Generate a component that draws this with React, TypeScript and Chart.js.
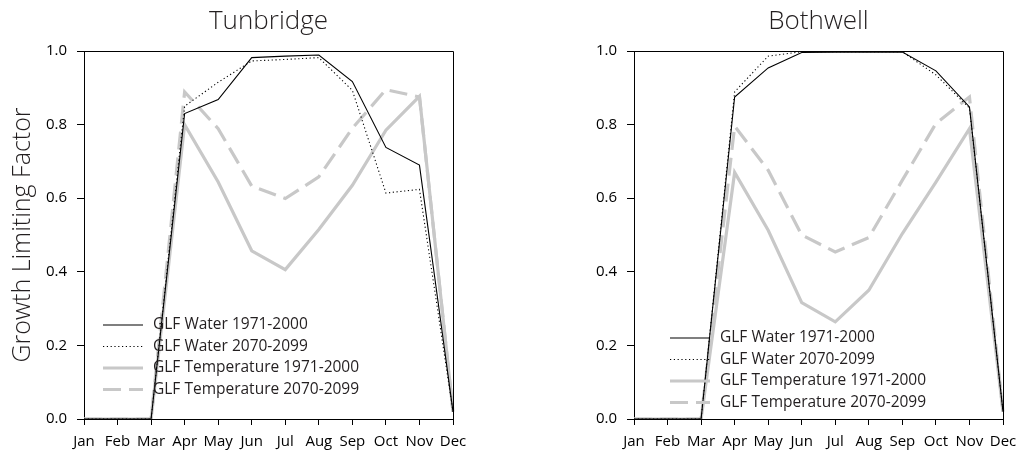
import React, { useEffect, useRef } from 'react';
import { Chart, registerables } from 'chart.js';

Chart.register(...registerables);

// ---- data ----
const months = ['Jan', 'Feb', 'Mar', 'Apr', 'May', 'Jun', 'Jul', 'Aug', 'Sep', 'Oct', 'Nov', 'Dec'];
const yTickValues = [0, 0.2, 0.4, 0.6, 0.8, 1.0];
const seriesLabels = [
  'GLF Water 1971-2000',
  'GLF Water 2070-2099',
  'GLF Temperature 1971-2000',
  'GLF Temperature 2070-2099',
];

const tunWater1971 = [0, 0, 0, 0.83, 0.868, 0.982, 0.986, 0.989, 0.917, 0.738, 0.69, 0.02];
const tunWater2070 = [0, 0, 0, 0.85, 0.915, 0.973, 0.977, 0.982, 0.893, 0.614, 0.624, 0.02];
const tunTemp1971 = [0, 0, 0, 0.8, 0.644, 0.457, 0.406, 0.515, 0.635, 0.785, 0.877, 0.02];
const tunTemp2070 = [0, 0, 0, 0.889, 0.789, 0.633, 0.599, 0.658, 0.79, 0.895, 0.875, 0.02];

const bothWater1971 = [0, 0, 0, 0.875, 0.954, 0.996, 0.997, 0.997, 0.997, 0.946, 0.848, 0.02];
const bothWater2070 = [0, 0, 0, 0.889, 0.986, 0.998, 0.998, 0.998, 0.998, 0.935, 0.845, 0.02];
const bothTemp1971 = [0, 0, 0, 0.67, 0.513, 0.316, 0.264, 0.35, 0.504, 0.644, 0.789, 0.02];
const bothTemp2070 = [0, 0, 0, 0.796, 0.676, 0.5, 0.454, 0.493, 0.649, 0.803, 0.875, 0.02];

// ---- styles ----
const FONT = '"Open Sans", "DejaVu Sans", sans-serif';
const GRAY = '#c8c8c8';
const TEXT = '#231f20';
Chart.defaults.font.family = FONT;

const seriesStyles = [
  { borderColor: '#000000', borderWidth: 1.1, borderDash: [] as number[] },
  { borderColor: '#000000', borderWidth: 1.1, borderDash: [1.2, 2.6] },
  { borderColor: GRAY, borderWidth: 3.2, borderDash: [] as number[] },
  { borderColor: GRAY, borderWidth: 3.2, borderDash: [18, 8] },
];

const framePlugin = {
  id: 'frame',
  afterDatasetsDraw(chart: any) {
    const { ctx, chartArea } = chart;
    ctx.save();
    ctx.strokeStyle = '#000';
    ctx.lineWidth = 1;
    ctx.setLineDash([]);
    ctx.beginPath();
    ctx.moveTo(chartArea.left, Math.round(chartArea.top) + 0.5);
    ctx.lineTo(Math.round(chartArea.right) + 0.5, Math.round(chartArea.top) + 0.5);
    ctx.lineTo(Math.round(chartArea.right) + 0.5, chartArea.bottom);
    ctx.stroke();
    ctx.restore();
  },
};

const legendPlugin = {
  id: 'glfLegend',
  afterDraw(chart: any, _args: any, opts: any) {
    const { ctx, chartArea } = chart;
    ctx.save();
    chart.data.datasets.forEach((ds: any, i: number) => {
      const y = chartArea.top + opts.y + i * opts.step;
      const x0 = chartArea.left + opts.x;
      ctx.beginPath();
      ctx.strokeStyle = ds.borderColor;
      ctx.lineWidth = ds.borderWidth;
      ctx.setLineDash(ds.borderDash || []);
      ctx.moveTo(x0, y);
      ctx.lineTo(x0 + 40, y);
      ctx.stroke();
      ctx.setLineDash([]);
      ctx.fillStyle = TEXT;
      ctx.font = `15.5px ${FONT}`;
      ctx.textBaseline = 'middle';
      ctx.textAlign = 'left';
      ctx.fillText(ds.label, x0 + 50, y);
    });
    ctx.restore();
  },
};

interface PanelProps {
  title: string;
  series: number[][];
  left: number;
  width: number;
  yAxisWidth: number;
  padRight: number;
  showYTitle: boolean;
  legendX: number;
  legendY: number;
}

function Panel(props: PanelProps) {
  const ref = useRef<HTMLCanvasElement | null>(null);
  useEffect(() => {
    if (!ref.current) return;
    const chart = new Chart(ref.current, {
      type: 'line',
      data: {
        labels: months,
        datasets: props.series.map((values, i) => ({
          label: seriesLabels[i],
          data: values,
          borderColor: seriesStyles[i].borderColor,
          borderWidth: seriesStyles[i].borderWidth,
          borderDash: seriesStyles[i].borderDash,
          pointRadius: 0,
          tension: 0,
          fill: false,
          borderCapStyle: 'butt',
          borderJoinStyle: 'miter',
        })),
      },
      options: {
        animation: false,
        responsive: false,
        devicePixelRatio: 1,
        layout: { padding: { left: 0, right: props.padRight, top: 0, bottom: 0 } },
        plugins: {
          legend: { display: false },
          tooltip: { enabled: false },
          title: {
            display: true,
            text: props.title,
            fullSize: false,
            color: TEXT,
            font: { size: 26, weight: '300' as any, family: FONT },
            padding: { top: 6.4, bottom: 13.4 },
          },
          glfLegend: { x: props.legendX, y: props.legendY, step: 21.5 },
        } as any,
        scales: {
          x: {
            type: 'category',
            offset: false,
            grid: { drawOnChartArea: false, drawTicks: true, tickLength: 6, color: '#000' },
            border: { display: true, color: '#000', width: 1 },
            ticks: { color: '#000', font: { size: 15 }, padding: 8, maxRotation: 0, autoSkip: false },
            afterFit: (s: any) => {
              s.height = 33;
              s.paddingLeft = 0;
              s.paddingRight = 0;
            },
          },
          y: {
            min: 0,
            max: 1,
            afterBuildTicks: (s: any) => { s.ticks = yTickValues.map((v) => ({ value: v })); },
            grid: { drawOnChartArea: false, drawTicks: true, tickLength: 7, color: '#000' },
            border: { display: true, color: '#000', width: 1 },
            ticks: {
              color: '#000',
              font: { size: 15 },
              padding: 10,
              callback: (v: any) => Number(v).toFixed(1),
            },
            title: {
              display: props.showYTitle,
              text: 'Growth Limiting Factor',
              color: TEXT,
              font: { size: 25, weight: '300' as any },
              padding: { top: 8, bottom: 0 },
            },
            afterFit: (s: any) => {
              s.width = props.yAxisWidth;
              s.paddingTop = 0;
              s.paddingBottom = 0;
            },
          },
        },
      },
      plugins: [framePlugin, legendPlugin],
    });
    return () => chart.destroy();
  }, []);
  return (
    <canvas
      ref={ref}
      width={props.width}
      height={452}
      style={{ position: 'absolute', left: props.left, top: 0, width: props.width, height: 452 }}
    />
  );
}

export default function App() {
  return (
    <div style={{ position: 'fixed', left: 0, top: 0, width: 1017, height: 452, background: '#fff' }}>
      <Panel
        title="Tunbridge"
        series={[tunWater1971, tunWater2070, tunTemp1971, tunTemp2070]}
        left={0}
        width={500}
        yAxisWidth={84}
        padRight={47}
        showYTitle={true}
        legendX={19}
        legendY={274}
      />
      <Panel
        title="Bothwell"
        series={[bothWater1971, bothWater2070, bothTemp1971, bothTemp2070]}
        left={517}
        width={500}
        yAxisWidth={117}
        padRight={14}
        showYTitle={false}
        legendX={36}
        legendY={287}
      />
    </div>
  );
}
